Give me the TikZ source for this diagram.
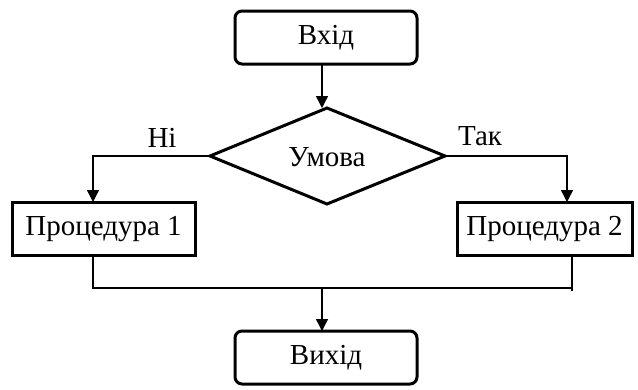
\documentclass[tikz,border=0pt]{standalone}
\usepackage{fontspec}
\setmainfont{Liberation Serif}
\usetikzlibrary{arrows.meta}
\begin{document}
\begin{tikzpicture}[x=1pt,y=-1pt,
  txt/.style={font=\fontsize{29}{33}\selectfont},
  term/.style={txt,draw,line width=3pt,rounded corners=7pt,minimum width=182pt,minimum height=53pt,inner sep=0pt},
  proc/.style={txt,draw,line width=3pt,minimum height=53pt,inner sep=0pt},
  conn/.style={line width=1.4pt},
  arr/.style={conn,-{Triangle[length=12pt,width=12pt]}},
  lbl/.style={txt,inner sep=0pt,anchor=base}]
\useasboundingbox (0,0) rectangle (638,389);
\node[term] (in) at (326,37.5) {Вхід};
\draw[line width=3pt] (210,156) coordinate (dl) -- (327,108) coordinate (dt) -- (445,156) coordinate (dr) -- (327,204) -- cycle;
\node[txt] (cond) at (327,157) {Умова};
\node[proc,minimum width=183pt] (p1) at (103.5,229) {Процедура 1};
\node[proc,minimum width=175pt] (p2) at (544.5,229) {Процедура 2};
\node[term] (out) at (326,357.5) {Вихід};
\coordinate (jl) at (93,288);
\coordinate (jr) at (572,288);
\coordinate (jc) at (322,288);
\draw[arr] (322,64) -- (322,108);
\draw[arr] (dl) -| (93,202);
\draw[arr] (dr) -| (567,202);
\draw[conn] (93,256) -- (jl) -- (jr);
\draw[conn] (572,256) -- (572,291);
\draw[arr] (jc) -- (322,331);
\node[lbl] (no) at (162,147) {Ні};
\node[lbl] (yes) at (480,145) {Так};
\end{tikzpicture}
\end{document}
